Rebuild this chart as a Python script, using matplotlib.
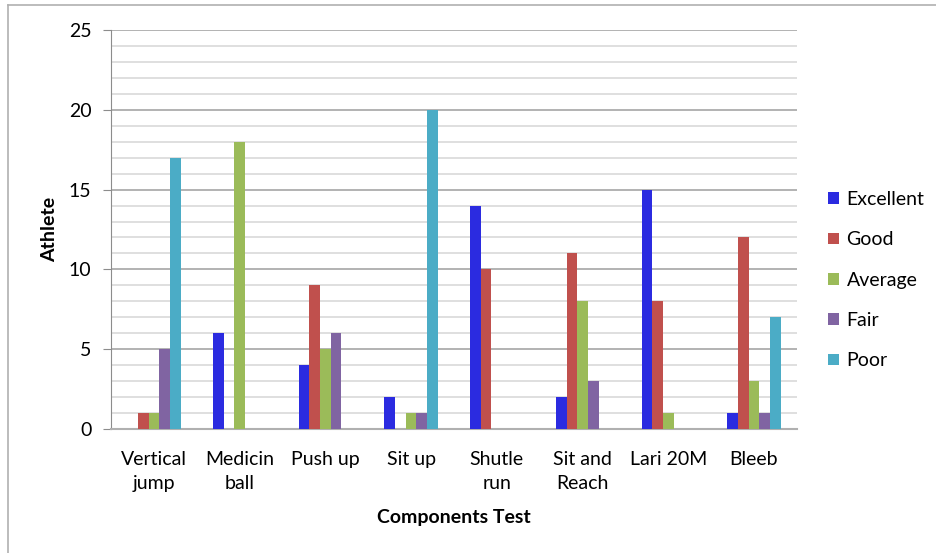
import numpy as np
import matplotlib.pyplot as plt
from matplotlib.lines import Line2D

plt.rcParams['font.family'] = ['Lato', 'DejaVu Sans']

# data
tests = ['Vertical\njump', 'Medicin\nball', 'Push up', 'Sit up', 'Shutle\nrun',
         'Sit and\nReach', 'Lari 20M', 'Bleeb']
excellent = [0, 6, 4, 2, 14, 2, 15, 1]
good = [1, 0, 9, 0, 10, 11, 8, 12]
average = [1, 18, 5, 1, 0, 8, 1, 3]
fair = [5, 0, 6, 1, 0, 3, 0, 1]
poor = [17, 0, 0, 20, 0, 0, 0, 7]

series = [('Excellent', excellent, '#2B2BE0'),
          ('Good', good, '#C0504D'),
          ('Average', average, '#9BBB59'),
          ('Fair', fair, '#8064A2'),
          ('Poor', poor, '#4BACC6')]

fs = 14

fig = plt.figure(figsize=(9.37, 5.53), dpi=100)
ax = fig.add_axes([0.1185, 0.2242, 0.732, 0.7216])

x = np.arange(len(tests))
w = 0.125
for k, (name, vals, col) in enumerate(series):
    ax.bar(x + (k - 2) * w, vals, w, color=col, label=name, zorder=3,
           edgecolor='none')

ax.set_xlim(-0.5, len(tests) - 0.5)
ax.set_ylim(0, 25)
ax.set_yticks(range(0, 26, 5))
ax.set_yticks(range(0, 26, 1), minor=True)
ax.grid(axis='y', which='minor', color='#d9d9d9', linewidth=1.2, zorder=0)
ax.grid(axis='y', which='major', color='#a6a6a6', linewidth=1.2, zorder=1)
ax.tick_params(axis='y', which='minor', length=0)
ax.tick_params(axis='y', which='major', length=6, color='#8c8c8c', labelsize=fs, pad=8)
ax.tick_params(axis='x', length=0, labelsize=fs, pad=16)
ax.set_xticks(x)
ax.set_xticklabels(tests, linespacing=1.5)

for s in ['top', 'right']:
    ax.spines[s].set_visible(False)
ax.spines['left'].set_color('#8c8c8c')
ax.spines['bottom'].set_color('#b0b0b0')
ax.spines['bottom'].set_linewidth(1.5)

ax.set_xlabel('Components Test', fontsize=fs, fontweight='bold', labelpad=12)
ax.set_ylabel('Athlete', fontsize=fs, fontweight='bold', labelpad=8)

ax.legend(loc='center left', bbox_to_anchor=(1.02, 0.373), frameon=False,
          fontsize=fs, handlelength=0.55, handleheight=0.55, handletextpad=0.4,
          labelspacing=1.2)

# outer chart border
fig.add_artist(Line2D([8 / 937, 8 / 937], [0, 1 - 5 / 553], color='#b0b0b0', lw=1.2))
fig.add_artist(Line2D([8 / 937, 1], [1 - 5 / 553, 1 - 5 / 553], color='#b0b0b0', lw=1.2))

fig.savefig('out.png', dpi=100)
